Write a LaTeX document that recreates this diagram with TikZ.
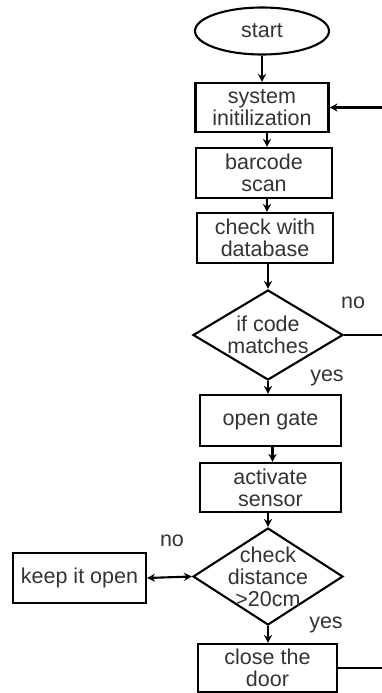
\documentclass[tikz,border=0pt]{standalone}
\usepackage{fontspec}
\setmainfont{Liberation Sans}
\usetikzlibrary{shapes.geometric,arrows.meta}
\begin{document}
\begin{tikzpicture}[x=1pt,y=1pt,
  every node/.style={font=\fontsize{21.5}{22}\selectfont, text=black!80},
  box/.style={draw, line width=2.1pt, rectangle, inner sep=0pt, align=center},
  oval/.style={draw, line width=2.1pt, ellipse, inner sep=0pt, minimum width=134pt, minimum height=47pt},
  dec/.style={draw, line width=2.1pt, diamond, inner sep=0pt},
  arr/.style={line width=2.1pt, -{Stealth[length=8pt,width=8pt]}},
  dbl/.style={line width=2.1pt, {Stealth[length=8pt,width=8pt]}-{Stealth[length=8pt,width=8pt]}},
  ln/.style={line width=2.1pt},
  lab/.style={inner sep=0pt}]
\useasboundingbox (0,0) rectangle (382,-693);
\node[oval] (start) at (262,-31) {start};
\node[box, minimum width=133pt, minimum height=49pt] (init) at (262,-107.5) {system\\initilization};
\node[box, minimum width=136pt, minimum height=50pt] (scan) at (264,-173) {barcode\\scan};
\node[box, minimum width=136pt, minimum height=50pt] (db) at (265,-238) {check with\\database};
\node[dec, minimum width=150pt, minimum height=90pt, label={[name=d1t, align=center]center:if code\\matches}] (d1) at (268,-335) {};
\node[box, minimum width=141pt, minimum height=51pt] (gate) at (270.5,-420.5) {open gate};
\node[box, minimum width=141pt, minimum height=49pt] (sens) at (270.5,-487.5) {activate\\sensor};
\node[dec, minimum width=150pt, minimum height=97pt, label={[name=d2t, align=center]center:check\\distance\\>20cm}] (d2) at (268,-576.5) {};
\node[box, minimum width=133pt, minimum height=50pt] (keep) at (79.5,-578) {keep it open};
\node[box, minimum width=139pt, minimum height=48pt] (close) at (267.5,-668) {close the\\door};
\node[lab] (no1) at (353,-303) {no};
\node[lab] (yes1) at (327,-378) {yes};
\node[lab] (no2) at (172,-541) {no};
\node[lab] (yes2) at (326,-625) {yes};
\coordinate (r1) at (382,-107.5);
\coordinate (r2) at (382,-335);
\coordinate (r3) at (382,-668);
\draw[arr] (start.south) -- (start.south |- init.north);
\draw[arr] (init.south -| scan.north) ++(3,0) coordinate (a1) -- (a1 |- scan.north);
\draw[arr] (scan.south) ++(3,0) coordinate (a2) -- (a2 |- db.north);
\draw[arr] (db.south -| d1.north) -- (d1.north);
\draw[arr] (d1.south) -- (d1.south |- gate.north);
\draw[arr] (gate.south) ++(2,0) coordinate (a3) -- (a3 |- sens.north);
\draw[arr] (sens.south -| d2.north) -- (d2.north);
\draw[arr] (d2.south) -- (d2.south |- close.north);
\draw[dbl] (keep.east) -- (d2.west);
\draw[arr] (r1) -- (init.east);
\draw[ln] (d1.east) -- (r2);
\draw[ln] (close.east) -- (r3);
\end{tikzpicture}
\end{document}
